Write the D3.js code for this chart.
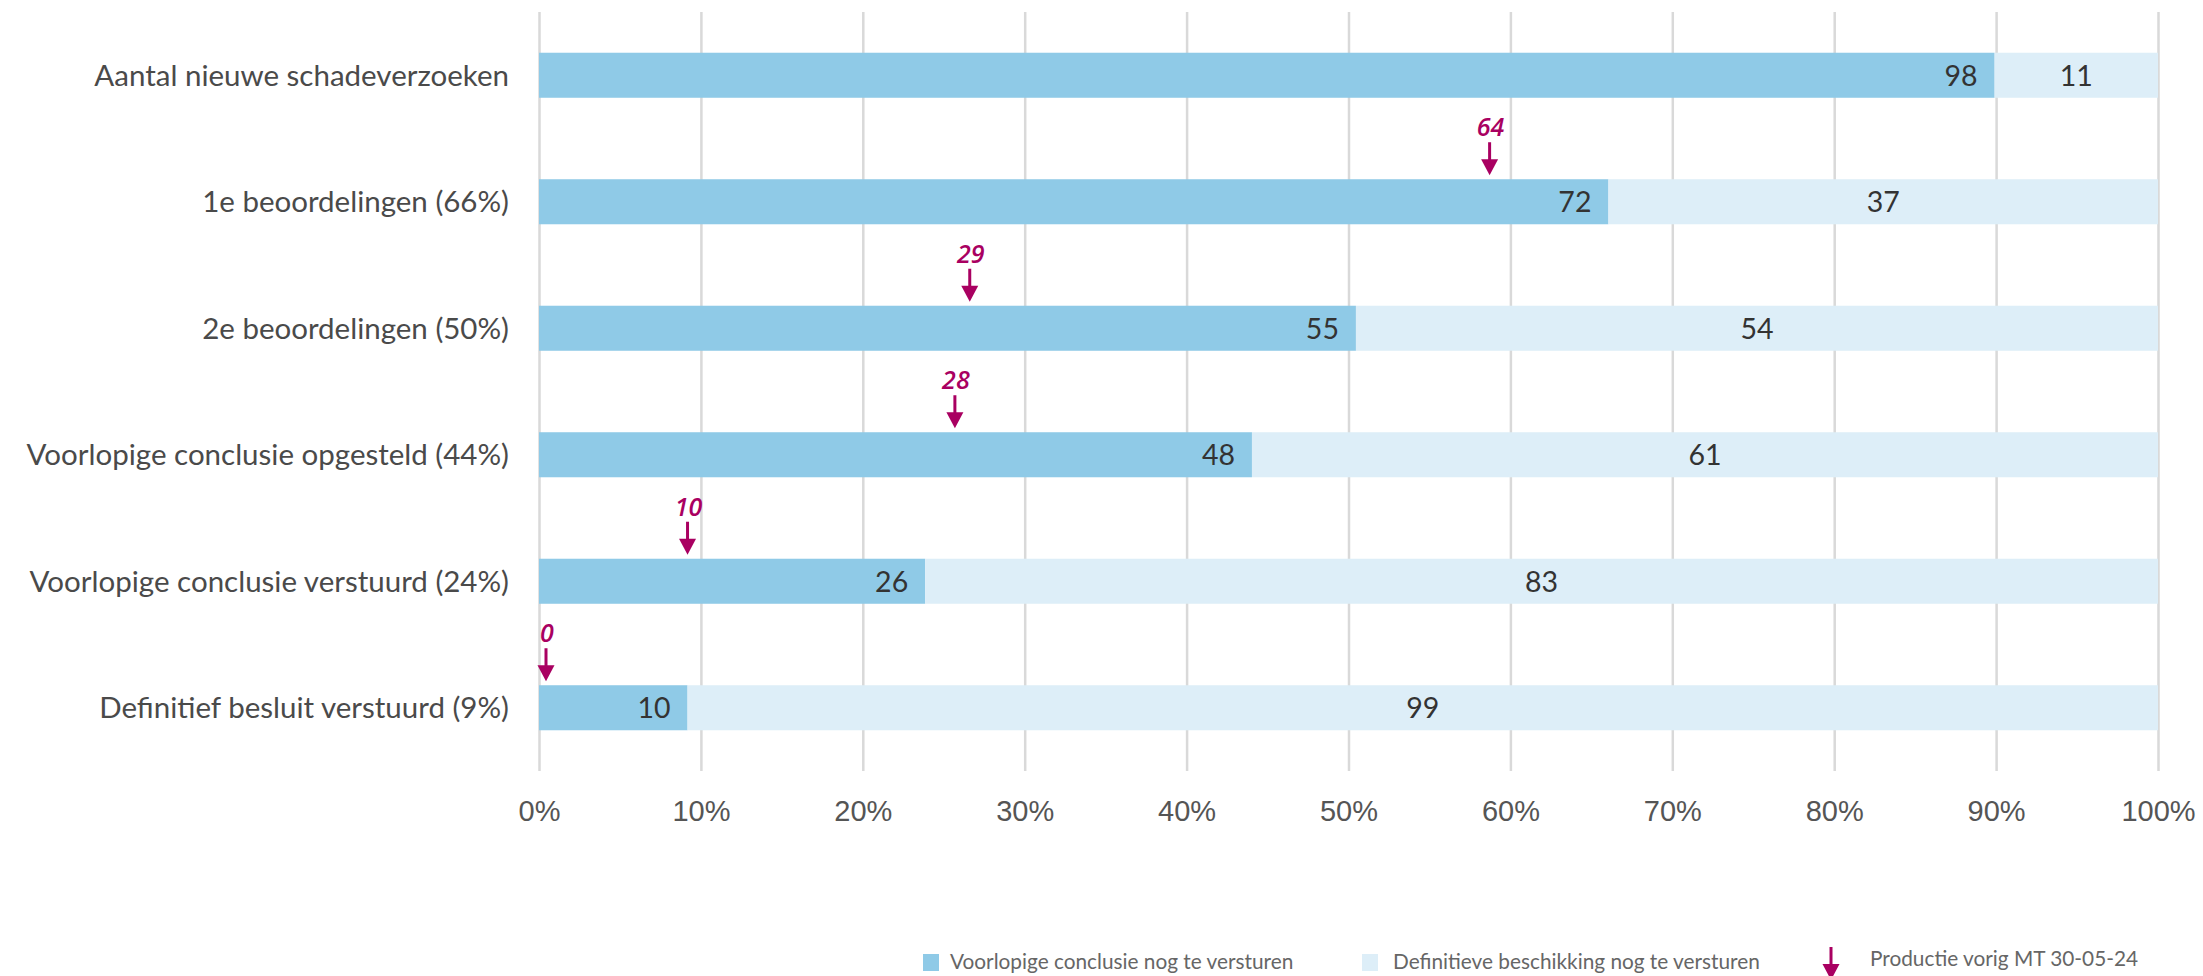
<!DOCTYPE html>
<html>
<head>
<meta charset="utf-8">
<script src="https://cdn.jsdelivr.net/npm/d3@7"></script>
<style>
  body { margin: 0; background: #fff; }
  svg { display: block; font-family: Lato, "Open Sans", sans-serif; }
  .grid line { stroke: #d9d9d9; stroke-width: 2.5; }
  .grid text { fill: #555; font-size: 29px; }
</style>
</head>
<body>
<svg id="chart" width="2203" height="976"></svg>
<script>
// categories and values
const categories = [
    "Aantal nieuwe schadeverzoeken",
    "1e beoordelingen (66%)",
    "2e beoordelingen (50%)",
    "Voorlopige conclusie opgesteld (44%)",
    "Voorlopige conclusie verstuurd (24%)",
    "Definitief besluit verstuurd (9%)"
];
const voorlopig = [98, 72, 55, 48, 26, 10];   // Voorlopige conclusie nog te versturen
const definitief = [11, 37, 54, 61, 83, 99];  // Definitieve beschikking nog te versturen
const vorigMT = [null, 64, 29, 28, 10, 0];    // Productie vorig MT 30-05-24
const tickValues = [0, 0.1, 0.2, 0.3, 0.4, 0.5, 0.6, 0.7, 0.8, 0.9, 1];
const legendLabels = ["Voorlopige conclusie nog te versturen", "Definitieve beschikking nog te versturen", "Productie vorig MT 30-05-24"];

const BLUE = "#8fcae7", LIGHT = "#ddeef8", VIOLET = "#a90061";

const svg = d3.select("#chart");
const plotTop = 12, plotBottom = 771;

const x = d3.scaleLinear().domain([0, 1]).range([539, 2158]);
const y = d3.scaleBand().domain(categories).range([plotTop, plotBottom])
    .paddingInner(0.644).paddingOuter(0.322);

const rows = categories.map((c, i) => {
    let total = voorlopig[i] + definitief[i];
    return {cat: c, a: voorlopig[i], b: definitief[i], share: voorlopig[i] / total,
            prev: vorigMT[i] == null ? null : vorigMT[i] / total, prevVal: vorigMT[i]};
});

// gridlines + percentage axis
const axis = d3.axisBottom(x).tickValues(tickValues).tickFormat(d3.format(".0%"))
    .tickSize(-(plotBottom - plotTop)).tickPadding(29);
svg.append("g").attr("class", "grid")
    .attr("transform", `translate(0,${plotBottom})`)
    .call(axis)
    .call(g => g.select(".domain").remove());

// category labels
svg.append("g").selectAll("text").data(rows).join("text")
    .attr("x", x(0) - 30)
    .attr("y", d => y(d.cat) + y.bandwidth() / 2)
    .attr("dy", "0.35em")
    .attr("text-anchor", "end")
    .attr("fill", "#4a4a4a")
    .attr("font-size", 29.5)
    .text(d => d.cat);

// bars
const bars = svg.append("g");
bars.selectAll("rect.a").data(rows).join("rect").attr("class", "a")
    .attr("x", x(0)).attr("y", d => y(d.cat))
    .attr("width", d => x(d.share) - x(0)).attr("height", y.bandwidth())
    .attr("fill", BLUE);
bars.selectAll("rect.b").data(rows).join("rect").attr("class", "b")
    .attr("x", d => x(d.share)).attr("y", d => y(d.cat))
    .attr("width", d => x(1) - x(d.share)).attr("height", y.bandwidth())
    .attr("fill", LIGHT);

// value labels
bars.selectAll("text.a").data(rows).join("text").attr("class", "a")
    .attr("x", d => x(d.share) - 17)
    .attr("y", d => y(d.cat) + y.bandwidth() / 2)
    .attr("dy", "0.36em").attr("text-anchor", "end")
    .attr("fill", "#333").attr("font-size", 28.5)
    .text(d => d.a);
bars.selectAll("text.b").data(rows).join("text").attr("class", "b")
    .attr("x", d => (x(d.share) + x(1)) / 2)
    .attr("y", d => y(d.cat) + y.bandwidth() / 2)
    .attr("dy", "0.36em").attr("text-anchor", "middle")
    .attr("fill", "#333").attr("font-size", 28.5)
    .text(d => d.b);

// previous production markers
function drawArrow(g, cx, tip) {
    g.append("line").attr("x1", cx).attr("x2", cx)
        .attr("y1", tip - 33).attr("y2", tip - 14)
        .attr("stroke", VIOLET).attr("stroke-width", 3);
    g.append("path")
        .attr("d", `M${cx - 8.5},${tip - 16}L${cx + 8.5},${tip - 16}L${cx},${tip}Z`)
        .attr("fill", VIOLET);
}
const markers = svg.append("g");
rows.filter(d => d.prev != null).forEach(d => {
    let cx = Math.max(x(d.prev), x(0) + 7);
    let bt = y(d.cat);
    drawArrow(markers, cx, bt - 4);
    markers.append("text")
        .attr("x", cx + 1).attr("y", bt - 43)
        .attr("text-anchor", "middle")
        .attr("font-family", "'Open Sans', sans-serif")
        .attr("font-style", "italic")
        .attr("font-weight", 600)
        .attr("font-size", 25)
        .attr("fill", VIOLET)
        .text(d.prevVal);
});

// legend
const legend = svg.append("g").attr("font-size", 20.8).attr("fill", "#666");
legend.append("rect").attr("x", 923).attr("y", 954).attr("width", 16).attr("height", 17).attr("fill", BLUE);
legend.append("text").attr("x", 950).attr("y", 969).text(legendLabels[0]);
legend.append("rect").attr("x", 1362).attr("y", 954).attr("width", 16).attr("height", 17).attr("fill", LIGHT);
legend.append("text").attr("x", 1393).attr("y", 969).text(legendLabels[1]);
drawArrow(legend, 1831, 980);
legend.append("text").attr("x", 1870).attr("y", 966).text(legendLabels[2]);
</script>
</body>
</html>
